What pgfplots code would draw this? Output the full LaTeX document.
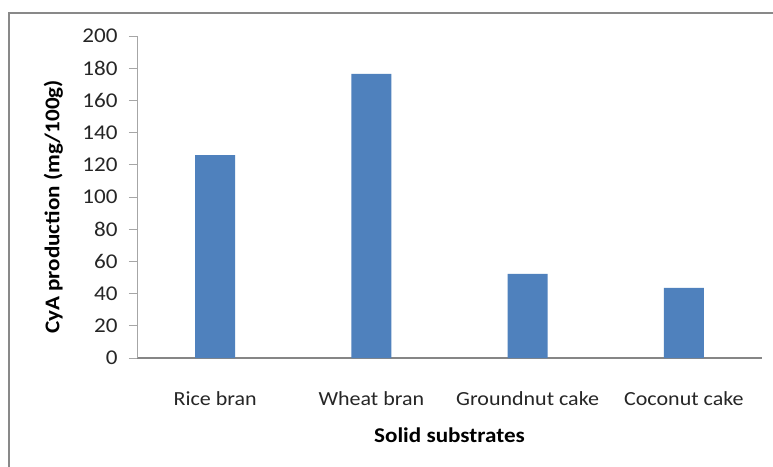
\documentclass[border=0pt]{standalone}
\usepackage{fontspec}
\setmainfont{Carlito}[FakeStretch=1.1]
\usepackage{pgfplots}
\pgfplotsset{compat=1.18}
\definecolor{barblue}{HTML}{4F81BD}
\definecolor{framegray}{HTML}{898989}
\definecolor{axgray}{HTML}{868686}
\definecolor{yaxgray}{HTML}{A6A6A6}
\begin{document}
\begin{tikzpicture}[x=1pt,y=1pt]
\useasboundingbox (0,0) rectangle (773,466);
\fill[white] (0,0) rectangle (773,466);
\draw[framegray, line width=2pt] (9,-5) -- (9,453) -- (780,453);
\begin{axis}[
  at={(137pt,108pt)}, anchor=south west,
  scale only axis, width=625pt, height=322pt,
  ymin=0, ymax=200, ytick={0,20,...,200},
  xmin=-0.5, xmax=3.5,
  xtick={0,1,2,3},
  xticklabels={Rice bran,Wheat bran,Groundnut cake,Coconut cake},
  axis x line*=bottom, axis y line*=left,
  x axis line style={-, draw=axgray, line width=1.8pt},
  y axis line style={-, draw=yaxgray, line width=1pt},
  major x tick style={draw=none},
  major y tick style={draw=yaxgray, line width=1pt},
  tick align=outside, major tick length=8pt,
  /pgf/number format/assume math mode=true,
  tick label style={font=\fontsize{20}{24}\selectfont, text=black!85},
  yticklabel style={anchor=east, xshift=-8pt, font=\fontsize{21}{24}\selectfont},
  xticklabel style={anchor=base, yshift=-39pt},
  ylabel={\bfseries CyA production (mg/100g)},
  xlabel={\bfseries Solid substrates},
  label style={font=\fontsize{21}{24}\selectfont},
  ylabel style={at={(axis description cs:-0.134,0.469)}, anchor=center, rotate=0},
  xlabel style={at={(axis description cs:0.5,-0.261)}, anchor=base},
  ybar, bar width=40pt,
  clip=false,
]
\addplot[fill=barblue, draw=none] coordinates {(0,126) (1,176.5) (2,52.3) (3,43.5)};
\end{axis}
\end{tikzpicture}
\end{document}
